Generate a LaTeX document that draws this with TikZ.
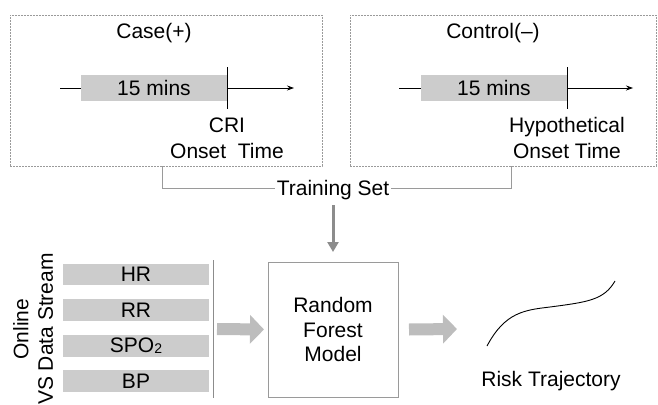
\documentclass[tikz,border=0pt]{standalone}
\usepackage{fontspec}
\setmainfont{Liberation Sans}
\usetikzlibrary{arrows.meta}
\definecolor{barfill}{HTML}{CCCCCC}
\definecolor{arrowfill}{HTML}{BDBDBD}
\definecolor{framegray}{HTML}{9A9A9A}
\definecolor{linegray}{HTML}{8C8C8C}
\begin{document}
\begin{tikzpicture}[x=1pt,y=-1pt,
  every node/.style={font=\fontsize{21}{24.5}\selectfont, inner sep=0pt, outer sep=0pt},
  framebox/.style={draw=framegray, line width=0.8pt, dash pattern=on 1.6pt off 1.4pt, minimum height=151pt},
  timebar/.style={fill=barfill, minimum width=146pt, minimum height=26pt},
  vsbar/.style={fill=barfill, minimum width=146pt, minimum height=21.5pt},
  timeline/.style={black, line width=0.8pt, -{Stealth[length=7pt,width=5pt]}},
  tickline/.style={black, line width=1pt},
  bracket/.style={draw=framegray, line width=1pt},
  downarrow/.style={draw=linegray, line width=3pt, -{Triangle[length=10pt,width=11pt]}},
  blockarrow/.style={draw=arrowfill, line width=12pt, -{Triangle[length=14pt,width=28pt]}},
  modelbox/.style={draw=framegray, line width=1pt, minimum width=130pt, minimum height=135pt, align=center},
  txt/.style={anchor=base}
]
\useasboundingbox (0,0) rectangle (658,404);

% ---- Case box ----
\node[framebox, minimum width=312pt] (casebox) at (166,90.5) {};
\node[txt] (casetitle) at (154,39) {Case(+)};
\coordinate (caseL) at (60,88);
\coordinate (caseR) at (294,88);
\draw[timeline] (caseL) -- (caseR);
\node[timebar] (casebar) at (154,88) {15 mins};
\coordinate (caseT1) at (227,67);
\coordinate (caseT2) at (227,109);
\draw[tickline] (caseT1) -- (caseT2);
\node[txt] (cri) at (227,132) {CRI};
\node[txt] (caseonset) at (227,158) {Onset~ Time};

% ---- Control box ----
\node[framebox, minimum width=306pt] (ctrlbox) at (503,90.5) {};
\node[txt] (ctrltitle) at (493,39) {Control(–)};
\coordinate (ctrlL) at (399,88);
\coordinate (ctrlR) at (633,88);
\draw[timeline] (ctrlL) -- (ctrlR);
\node[timebar] (ctrlbar) at (494,88) {15 mins};
\coordinate (ctrlT1) at (567,67);
\coordinate (ctrlT2) at (567,109);
\draw[tickline] (ctrlT1) -- (ctrlT2);
\node[txt] (hypo) at (567,132) {Hypothetical};
\node[txt] (ctrlonset) at (567,158) {Onset Time};

% ---- Training set bracket ----
\node[txt] (train) at (333,195) {Training Set};
\coordinate (bL) at (162,166);
\coordinate (bR) at (511,166);
\draw[bracket] (bL) |- ([xshift=-2pt]train.west |- 0,188);
\draw[bracket] ([xshift=2pt]train.east |- 0,188) -| (bR);

% ---- Random forest model ----
\node[modelbox] (rf) at (333,329.5) {Random\\Forest\\Model};
\draw[downarrow] (train.south |- 0,205) -- ([yshift=10pt]rf.north);

% ---- VS data stream ----
\node[rotate=90, align=center] (vs) at (33,329) {Online\\VS Data Stream};
\node[vsbar] (hr) at (136,274.5) {HR};
\node[vsbar] (rr) at (136,310) {RR};
\node[vsbar] (spo) at (136,346) {SPO\raisebox{-1pt}{\fontsize{14}{14}\selectfont 2}};
\node[vsbar] (bp) at (136,381) {BP};
\coordinate (vtop) at (213,260);
\coordinate (vbot) at (213,398);
\draw[draw=linegray, line width=1pt] (vtop) -- (vbot);
\coordinate (vmid) at (213,329);
\draw[blockarrow] ([xshift=4pt]vmid) -- ([xshift=-4pt]rf.west);

% ---- Risk trajectory ----
\coordinate (outarr) at (457,329);
\draw[blockarrow] ([xshift=11pt]rf.east) -- (outarr);
\coordinate (cs) at (487,346);
\coordinate (cm) at (550,307);
\coordinate (ce) at (615,281);
\draw[black, line width=0.9pt] (cs) .. controls (505,312) and (525,310) .. (cm)
  .. controls (588,302) and (604,300) .. (ce);
\node[txt] (risk) at (551,386) {Risk Trajectory};
\end{tikzpicture}
\end{document}
